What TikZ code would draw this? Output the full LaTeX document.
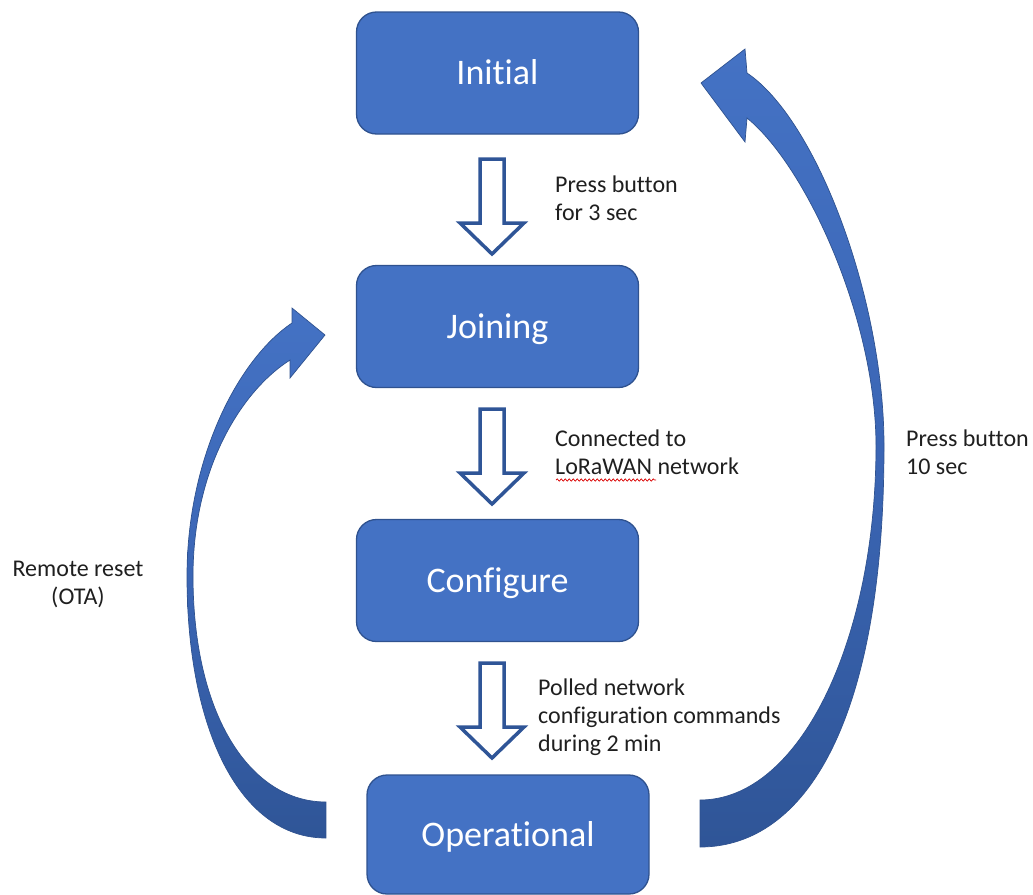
\documentclass[tikz,border=0pt]{standalone}
\usepackage{fontspec}
\setmainfont{Carlito}[RawFeature={-liga;-clig;-dlig;-calt;-rlig}]
\usetikzlibrary{decorations.pathmorphing}
\definecolor{boxblue}{HTML}{4472C4}
\definecolor{boxedge}{HTML}{2F528F}
\definecolor{darkblue}{HTML}{2F5597}
\definecolor{midblue}{HTML}{3B66B5}
\definecolor{txt}{HTML}{1F1F1F}
\begin{document}
\begin{tikzpicture}[x=1pt,y=-1pt,
  state/.style={draw=boxedge, line width=1.3pt, fill=boxblue, rounded corners=20pt,
    minimum width=282pt, minimum height=122pt, inner sep=0pt, text=white,
    font=\fontsize{36}{43}\selectfont, text height=23pt, text depth=0pt},
  lbl/.style={font=\fontsize{24}{28}\selectfont, text=txt, inner sep=0pt},
  hollow/.style={draw=darkblue, line width=3.5pt, fill=white, line join=miter},
  bendarrow/.style={draw=boxedge, line width=0.7pt, top color=boxblue, bottom color=darkblue, middle color=midblue},
  downarr/.pic={\path[hollow] (-12,0) -- (12,0) -- (12,64) -- (32,64) -- (0,95) -- (-32,64) -- (-12,64) -- cycle;}
]
\useasboundingbox (0,0) rectangle (1033,894);

% state boxes
\node[state] (init) at (497.5,73) {Initial};
\node[state] (join) at (497.5,326.5) {Joining};
\node[state] (conf) at (497.5,580.5) {Configure};
\node[state, minimum height=119pt] (oper) at (508,834.5) {Operational};

% hollow down arrows between states
\pic at (492,159) {downarr};
\pic at (492,409) {downarr};
\pic at (492,663) {downarr};

% labels
\node[lbl, anchor=base west] (l1) at (555,192) {\begin{tabular}[t]{@{}l@{}}Press button\\for 3 sec\end{tabular}};
\node[lbl, anchor=base west] (l2) at (555,446) {\begin{tabular}[t]{@{}l@{}}Connected to\\LoRaWAN network\end{tabular}};
\node[lbl, anchor=base west] (l3) at (538,695) {\begin{tabular}[t]{@{}l@{}}Polled network\\configuration commands\\during 2 min\end{tabular}};
\node[lbl, anchor=base west] (l4) at (906,446) {\begin{tabular}[t]{@{}l@{}}Press button\\10 sec\end{tabular}};
\node[lbl, anchor=base] (l5) at (78,576) {\begin{tabular}[t]{@{}c@{}}Remote reset\\(OTA)\end{tabular}};

% spell-check wavy underline under LoRaWAN
\coordinate (w1) at (556,480);
\coordinate (w2) at (656,480);
\draw[red!85!black, line width=0.7pt, decorate, decoration={snake, amplitude=1.1pt, segment length=4pt}] (w1) -- (w2);

% right curved arrow: Operational -> Initial
\path[bendarrow] (747,73) .. controls (817,120) and (884,300) .. (884,446)
  .. controls (884,720) and (806,847) .. (700,847)
  -- (700,800)
  .. controls (800,800) and (876,640) .. (876,446)
  .. controls (876,320) and (807,167) .. (747,118)
  -- (745,142) -- (701,83) -- (745,49) -- cycle;

% left curved arrow: Operational -> Joining
\path[bendarrow] (292,323) .. controls (237,360) and (187,460) .. (187,576)
  .. controls (187,730) and (240,838) .. (326,838)
  -- (326,802)
  .. controls (250,802) and (193,715) .. (193,576)
  .. controls (193,470) and (240,392) .. (290,360)
  -- (290,378) -- (325,335) -- (292,308) -- cycle;
\end{tikzpicture}
\end{document}
